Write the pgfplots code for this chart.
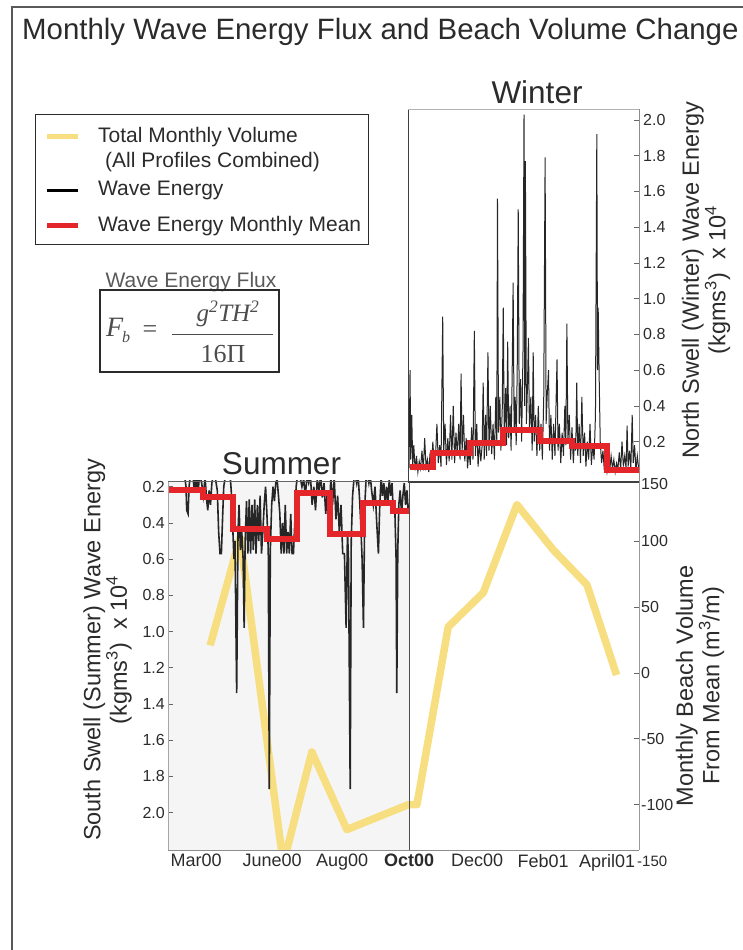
\documentclass[border=0pt]{standalone}
\usepackage{fontspec}
\setmainfont{Liberation Sans}
\newfontfamily\timesfont{Liberation Serif}
\usepackage{pgfplots}
\pgfplotsset{compat=1.18}
\definecolor{txt}{HTML}{2B2B2B}
\definecolor{volyel}{RGB}{247,222,128}
\definecolor{mred}{RGB}{228,38,42}
\pgfplotsset{
  base/.style={scale only axis, anchor=south west, clip=true,
    /pgf/number format/assume math mode=true,
    tick label style={text=txt},
    axis line style={draw=none},
    major tick length=5pt, tick align=inside,
    tick style={black!60, line width=0.6pt},
  },
}
\begin{document}
\begin{tikzpicture}[x=1pt,y=1pt]
\useasboundingbox (0pt,0pt) rectangle (743pt,950pt);
% outer frame
\draw[black!65, line width=1.2] (12,0) -- (12,943) -- (743,943);
% title
\node[anchor=base west, inner sep=0, text=txt, font=\fontsize{29.4}{32}\selectfont] at (22,910) {Monthly Wave Energy Flux and Beach Volume Change};
% legend
\draw[txt, line width=1] (35,835) rectangle (368,705);
\draw[volyel, line width=5] (47,813) -- (78,813);
\draw[black, line width=2.5] (47,759.3) -- (78,759.3);
\draw[mred, line width=5] (47,724) -- (78,724);
\begin{scope}[every node/.style={anchor=west, inner sep=0, text=txt, font=\fontsize{21}{23}\selectfont}]
\node at (98,813) {Total Monthly Volume};
\node at (105,788.3) {(All Profiles Combined)};
\node at (98,759.3) {Wave Energy};
\node at (98,724) {Wave Energy Monthly Mean};
\end{scope}
% formula
\node[text=black!65, font=\fontsize{21}{23}\selectfont] at (191,668.3) {Wave Energy Flux};
\draw[txt, line width=1.2] (100,660) rectangle (279,578);
\node[anchor=base west, inner sep=0, text=black!70, font=\timesfont\fontsize{28}{30}\selectfont\itshape] at (106,613) {F};
\node[anchor=base west, inner sep=0, text=black!70, font=\timesfont\fontsize{16}{18}\selectfont\itshape] at (122,607) {b};
\node[text=black!70, font=\timesfont\fontsize{26}{28}\selectfont] at (150,618) {=};
\draw[black!70, line width=1] (172,615) -- (273,615);
\node[anchor=base, inner sep=0, text=black!70, font=\timesfont\fontsize{25}{28}\selectfont\itshape] at (228,628) {g\textsuperscript{2}TH\textsuperscript{2}};
\node[anchor=base, inner sep=0, text=black!70, font=\timesfont\fontsize{26}{28}\selectfont] at (223,587) {16Π};
% season titles
\node[anchor=base, inner sep=0, text=txt, font=\fontsize{31.5}{34}\selectfont] at (537,846.7) {Winter};
\node[anchor=base, inner sep=0, text=txt, font=\fontsize{31.5}{34}\selectfont] at (281.5,475) {Summer};
% axis titles
\node[rotate=90, align=center, text=txt, font=\fontsize{23.5}{25}\selectfont] at (706,670) {North Swell (Winter) Wave Energy\\(kgms\textsuperscript{3})~~x 10\textsuperscript{4}};
\node[rotate=90, align=center, text=txt, font=\fontsize{23.5}{25}\selectfont] at (107.5,300) {South Swell (Summer) Wave Energy\\(kgms\textsuperscript{3})~~x 10\textsuperscript{4}};
\node[rotate=90, align=center, text=txt, font=\fontsize{23.5}{25}\selectfont] at (700,264) {Monthly Beach Volume\\From Mean (m\textsuperscript{3}/m)};
% summer background
\fill[black!4] (168,100) rectangle (409,469);

% ---------- Beach volume axis ----------
\begin{axis}[base, at={(168pt,100pt)}, width=471pt, height=369pt,
  xmin=-0.09, xmax=13.76, ymin=-134.5, ymax=145.9,
  xtick={0.74,2.97,5.03,7,9,10.94,12.82},
  xticklabels={Mar00,June00,Aug00,\textbf{Oct00},Dec00,Feb01,April01},
  xtick style={draw=none},
  xticklabel style={font=\fontsize{18}{20}\selectfont, inner sep=1pt, yshift=-3pt},
  ytick={-100,-50,0,50,100}, ytick pos=right, yticklabel pos=right,
  yticklabel style={font=\fontsize{16}{18}\selectfont, inner sep=1pt, xshift=1pt},
]
\addplot[volyel, line width=7.5, line join=round] coordinates {
(1.15,21) (2.03,103) (3.30,-145) (4.14,-60) (5.17,-119) (6.98,-100) (7.23,-100)
(8.15,35) (9.18,61) (10.17,128) (11.24,93.5) (12.23,67) (13.10,-1.5)};
\end{axis}
\node[anchor=west, inner sep=0, text=txt, font=\fontsize{16}{18}\selectfont] at (641,466) {150};
\node[anchor=west, inner sep=0, text=txt, font=\fontsize{15}{17}\selectfont] at (637,89) {-150};

% ---------- Summer axis ----------
\begin{axis}[base, at={(168pt,100pt)}, width=241pt, height=369pt,
  xmin=-0.09, xmax=7.0, y dir=reverse, ymin=0.1685, ymax=2.207,
  xtick=\empty,
  ytick={0.2,0.4,0.6,0.8,1.0,1.2,1.4,1.6,1.8,2.0}, ytick pos=left,
  yticklabel style={font=\fontsize{16}{18}\selectfont, inner sep=1pt, xshift=-2pt,
    /pgf/number format/.cd, fixed, fixed zerofill, precision=1},
]
\addplot[black!85, line width=1.6] coordinates {
(-0.09,0.15) (0.00,0.12) (0.10,0.14) (0.20,0.12) (0.30,0.15) (0.40,0.14) (0.44,0.20) (0.46,0.33)
(0.50,0.35) (0.53,0.20) (0.57,0.13) (0.65,0.15) (0.68,0.22) (0.71,0.16) (0.74,0.20) (0.77,0.14)
(0.80,0.22) (0.84,0.13) (0.90,0.18) (0.95,0.25) (1.00,0.15) (1.05,0.28) (1.08,0.33) (1.12,0.22)
(1.16,0.30) (1.20,0.18) (1.25,0.13) (1.30,0.15) (1.36,0.22) (1.40,0.45) (1.44,0.57) (1.48,0.57)
(1.52,0.35) (1.55,0.20) (1.60,0.14) (1.68,0.13) (1.74,0.14) (1.78,0.25) (1.82,0.45) (1.85,0.60)
(1.88,0.50) (1.93,1.34) (1.97,0.45) (2.00,0.30) (2.04,0.55) (2.08,0.45) (2.12,0.60) (2.15,0.98)
(2.18,0.50) (2.22,0.28) (2.26,0.57) (2.30,0.27) (2.34,0.57) (2.38,0.30) (2.42,0.55) (2.46,0.27)
(2.50,0.57) (2.54,0.30) (2.58,0.50) (2.62,0.25) (2.66,0.57) (2.70,0.45) (2.74,0.30) (2.78,0.20)
(2.82,0.35) (2.86,0.55) (2.89,1.87) (2.92,0.55) (2.96,0.30) (3.00,0.20) (3.04,0.28) (3.08,0.18)
(3.12,0.16) (3.16,0.25) (3.20,0.35) (3.24,0.57) (3.28,0.40) (3.32,0.57) (3.36,0.30) (3.40,0.57)
(3.44,0.45) (3.48,0.57) (3.52,0.35) (3.56,0.57) (3.60,0.57) (3.64,0.40) (3.68,0.20) (3.72,0.14)
(3.76,0.13) (3.80,0.15) (3.85,0.20) (3.90,0.16) (3.95,0.25) (4.00,0.14) (4.05,0.18) (4.10,0.14)
(4.15,0.30) (4.20,0.20) (4.25,0.33) (4.30,0.16) (4.35,0.22) (4.40,0.14) (4.45,0.26) (4.50,0.18)
(4.55,0.35) (4.60,0.22) (4.65,0.40) (4.70,0.15) (4.75,0.30) (4.80,0.15) (4.85,0.38) (4.90,0.25)
(4.95,0.45) (5.00,0.30) (5.05,0.57) (5.10,0.57) (5.15,0.98) (5.19,0.45) (5.22,0.60) (5.27,1.87)
(5.30,0.50) (5.34,0.25) (5.38,0.16) (5.42,0.14) (5.46,0.18) (5.50,0.13) (5.54,0.25) (5.58,0.40)
(5.62,0.60) (5.66,0.98) (5.70,0.30) (5.74,0.15) (5.78,0.13) (5.82,0.18) (5.86,0.14) (5.90,0.22)
(5.95,0.30) (6.00,0.20) (6.05,0.40) (6.10,0.57) (6.14,0.30) (6.18,0.15) (6.22,0.25) (6.26,0.18)
(6.30,0.30) (6.34,0.20) (6.38,0.28) (6.42,0.16) (6.46,0.25) (6.50,0.18) (6.54,0.35) (6.58,0.30)
(6.62,0.60) (6.64,1.34) (6.67,0.55) (6.70,0.30) (6.74,0.22) (6.78,0.35) (6.82,0.25) (6.86,0.18)
(6.90,0.30) (6.94,0.22) (6.98,0.35) (7.01,0.30)};
\addplot[mred, line width=6, const plot] coordinates {
(-0.09,0.218) (0.95,0.259) (1.83,0.435) (2.81,0.49) (3.70,0.236) (4.68,0.461) (5.66,0.292) (6.54,0.333) (7.01,0.333)};
\end{axis}

% ---------- Winter axis ----------
\begin{axis}[base, at={(408pt,468pt)}, width=231pt, height=373pt,
  xmin=6.97, xmax=13.76, ymin=-0.0257, ymax=2.061,
  xtick=\empty,
  ytick={0.2,0.4,0.6,0.8,1.0,1.2,1.4,1.6,1.8,2.0}, ytick pos=right, yticklabel pos=right,
  yticklabel style={font=\fontsize{16}{18}\selectfont, inner sep=1pt, xshift=3pt,
    /pgf/number format/.cd, fixed, fixed zerofill, precision=1},
]
\addplot[black!85, line width=1.0] coordinates {
(7.00,0.05) (7.03,0.60) (7.05,0.10) (7.08,0.35) (7.11,0.06) (7.14,0.18) (7.18,0.04) (7.22,0.12)
(7.26,0.03) (7.30,0.09) (7.34,0.05) (7.38,0.15) (7.42,0.04) (7.46,0.22) (7.50,0.06) (7.54,0.10)
(7.58,0.03) (7.62,0.14) (7.66,0.05) (7.70,0.20) (7.74,0.07) (7.78,0.12) (7.82,0.30) (7.86,0.08)
(7.90,0.18) (7.94,0.06) (7.99,0.90) (8.02,0.15) (8.06,0.30) (8.10,0.07) (8.14,0.22) (8.18,0.09)
(8.22,0.35) (8.26,0.10) (8.30,0.40) (8.34,0.08) (8.38,0.25) (8.42,0.12) (8.46,0.30) (8.50,0.10)
(8.53,0.58) (8.56,0.14) (8.60,0.35) (8.64,0.09) (8.68,0.22) (8.72,0.05) (8.76,0.15) (8.80,0.07)
(8.84,0.28) (8.88,0.10) (8.92,0.82) (8.95,0.12) (8.99,0.30) (9.03,0.06) (9.07,0.20) (9.11,0.09)
(9.15,0.18) (9.18,0.53) (9.21,0.10) (9.25,0.35) (9.28,0.12) (9.32,0.70) (9.35,0.15) (9.39,0.40)
(9.43,0.13) (9.47,0.30) (9.51,0.10) (9.55,0.45) (9.58,0.20) (9.60,1.56) (9.63,0.25) (9.67,0.45)
(9.70,0.15) (9.74,0.38) (9.77,0.95) (9.80,0.20) (9.84,0.50) (9.87,0.18) (9.90,0.76) (9.93,0.22)
(9.97,0.40) (10.00,0.15) (10.03,0.55) (10.06,1.09) (10.09,0.25) (10.12,0.45) (10.15,0.18) (10.18,0.60)
(10.21,1.50) (10.24,0.30) (10.28,0.55) (10.31,0.20) (10.35,0.70) (10.38,2.03) (10.40,0.40) (10.42,1.77)
(10.45,0.30) (10.48,0.50) (10.51,0.78) (10.54,0.25) (10.58,0.45) (10.62,0.15) (10.65,0.70) (10.68,0.20)
(10.72,0.35) (10.76,0.12) (10.80,0.40) (10.84,0.15) (10.88,0.30) (10.92,0.10) (10.96,0.45) (11.00,1.79)
(11.03,0.30) (11.06,0.45) (11.10,0.60) (11.13,0.15) (11.17,0.35) (11.21,0.10) (11.25,0.30) (11.29,0.12)
(11.32,0.40) (11.35,0.66) (11.38,0.15) (11.42,0.30) (11.46,0.08) (11.50,0.25) (11.54,0.12) (11.58,0.40)
(11.61,0.18) (11.64,0.86) (11.67,0.20) (11.71,0.35) (11.75,0.10) (11.79,0.28) (11.83,0.08) (11.87,0.22)
(11.90,0.15) (11.93,0.53) (11.96,0.12) (12.00,0.30) (12.04,0.08) (12.08,0.45) (12.12,0.12) (12.16,0.25)
(12.20,0.06) (12.24,0.20) (12.28,0.10) (12.32,0.30) (12.36,0.07) (12.40,0.18) (12.44,0.10) (12.48,0.35)
(12.52,1.92) (12.54,0.60) (12.56,0.95) (12.59,0.55) (12.62,0.20) (12.66,0.08) (12.70,0.15) (12.74,0.04)
(12.78,0.10) (12.82,0.03) (12.86,0.08) (12.90,0.04) (12.94,0.12) (12.98,0.05) (13.02,0.10) (13.06,0.03)
(13.10,0.08) (13.14,0.05) (13.18,0.14) (13.22,0.04) (13.26,0.20) (13.30,0.06) (13.34,0.12) (13.38,0.05)
(13.41,0.29) (13.44,0.06) (13.48,0.15) (13.52,0.05) (13.56,0.35) (13.59,0.08) (13.63,0.18) (13.67,0.04)
(13.71,0.12) (13.75,0.05)};
\addplot[mred, line width=6, const plot] coordinates {
(7.03,0.06) (7.71,0.135) (8.79,0.194) (9.77,0.265) (10.85,0.205) (11.79,0.177) (12.81,0.041) (13.76,0.041)};
\end{axis}

% spines
\draw[black!35, line width=0.8] (168,100) -- (168,469);
\draw[black!60, line width=0.9] (168,469) -- (409,469);
\draw[black!45, line width=0.8] (168,100) -- (639,100);
\draw[black!40, line width=0.8] (639,100) -- (639,468);
\draw[black!70, line width=0.9] (409,100) -- (409,469);
\draw[black!75, line width=0.9] (408,468) -- (408,841);
\draw[black!30, line width=0.8] (408,841) -- (639,841);
\draw[black!45, line width=0.8] (639,468) -- (639,841);
\draw[black!75, line width=1.4] (408,468) -- (639,468);
\end{tikzpicture}
\end{document}
